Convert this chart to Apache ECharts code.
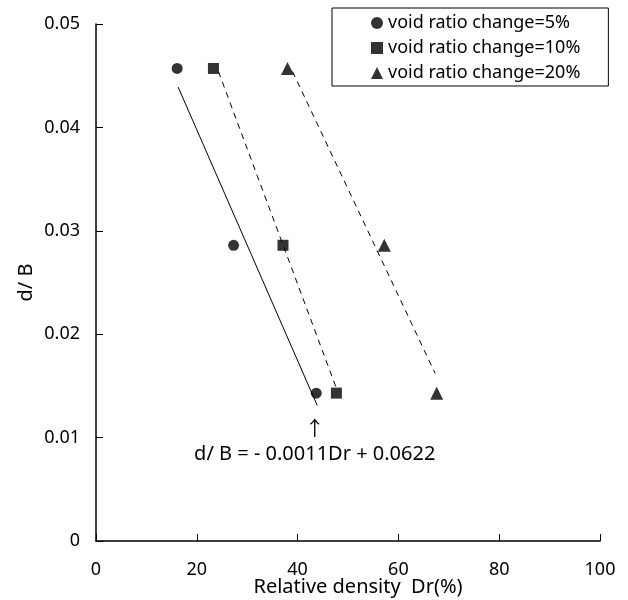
<!DOCTYPE html>
<html>
<head>
<meta charset="utf-8">
<script src="https://cdn.jsdelivr.net/npm/echarts@6/dist/echarts.min.js"></script>
<style>
    html, body {margin: 0; padding: 0; background: #fff;}
    #main {width: 628px; height: 600px;}
</style>
</head>
<body>
<div id="main"></div>
<script>
// measured points, [Dr, d/B]
var void5 = [[16.1, 0.0457], [27.3, 0.0286], [43.7, 0.0143]]
var void10 = [[23.3, 0.0457], [37.1, 0.0286], [47.7, 0.0143]]
var void20 = [[38.0, 0.0457], [57.2, 0.0286], [67.6, 0.0143]]
// fitted lines (end points as drawn)
var fit5 = [[16.3, 0.0439], [43.9, 0.0131]]
var fit10 = [[24.3, 0.0454], [47.6, 0.0149]]
var fit20 = [[39.0, 0.0454], [67.3, 0.0162]]
var seriesNames = ['void ratio change=5%', 'void ratio change=10%', 'void ratio change=20%']
var equationText = 'd/ B = - 0.0011Dr + 0.0622'

var font = '"Noto Sans", "Open Sans", sans-serif'

function getChart() {
    var dom = document.getElementById('main')
    var instance = echarts.init(dom)

    var fitLine = function (data, dashed) {
        return {
            type: 'line',
            data: data,
            symbol: 'none',
            silent: true,
            lineStyle: {
                color: '#000',
                width: 1,
                type: dashed ? [6, 5] : 'solid'
            }
        }
    }

    let option = {
        backgroundColor: '#fff',
        animation: false,
        textStyle: {fontFamily: font},
        grid: {
            left: 96,
            right: 28,
            top: 24,
            bottom: 59,
            outerBoundsMode: 'none'
        },
        legend: {
            orient: 'vertical',
            left: 332,
            top: 8,
            padding: [5, 28, 3, 39],
            itemGap: 5,
            itemWidth: 12,
            itemHeight: 12,
            borderColor: '#000',
            borderWidth: 1,
            data: seriesNames,
            textStyle: {
                fontFamily: font,
                fontSize: 18,
                lineHeight: 20,
                color: '#000'
            }
        },
        xAxis: {
            type: 'value',
            min: 0,
            max: 100,
            interval: 20,
            name: 'Relative density  Dr(%)',
            nameLocation: 'middle',
            nameGap: 36,
            nameMoveOverlap: false,
            nameTextStyle: {
                fontFamily: font,
                fontSize: 20,
                color: '#000',
                padding: [0, 0, 0, 20]
            },
            splitLine: {show: false},
            axisLine: {lineStyle: {color: '#000', width: 1.5}},
            axisTick: {inside: true, length: 7, lineStyle: {color: '#000'}},
            axisLabel: {
                margin: 20,
                fontFamily: font,
                fontSize: 18,
                color: '#000'
            }
        },
        yAxis: {
            type: 'value',
            min: 0,
            max: 0.05,
            interval: 0.01,
            name: 'd/ B',
            nameLocation: 'middle',
            nameGap: 60,
            nameMoveOverlap: false,
            nameTextStyle: {
                fontFamily: font,
                fontSize: 20,
                color: '#000'
            },
            splitLine: {show: false},
            axisLine: {show: true, lineStyle: {color: '#000', width: 1.5}},
            axisTick: {show: true, inside: true, length: 7, lineStyle: {color: '#000'}},
            axisLabel: {
                margin: 16,
                fontFamily: font,
                fontSize: 18,
                color: '#000'
            }
        },
        series: [
            {
                name: seriesNames[0],
                type: 'scatter',
                symbol: 'circle',
                symbolSize: 11,
                itemStyle: {color: '#000'},
                data: void5
            },
            {
                name: seriesNames[1],
                type: 'scatter',
                symbol: 'rect',
                symbolSize: 11,
                itemStyle: {color: '#000'},
                data: void10
            },
            {
                name: seriesNames[2],
                type: 'scatter',
                symbol: 'triangle',
                symbolSize: 13,
                itemStyle: {color: '#000'},
                data: void20
            },
            Object.assign(fitLine(fit5, false), {
                markPoint: {
                    symbol: 'circle',
                    symbolSize: 0,
                    silent: true,
                    data: [{coord: [43.4, 0.00967]}],
                    label: {
                        show: true,
                        position: 'inside',
                        formatter: '{a|↑}\n' + equationText,
                        align: 'center',
                        lineHeight: 26,
                        fontFamily: font,
                        fontSize: 20,
                        color: '#000',
                        rich: {
                            a: {
                                fontFamily: '"Noto Sans CJK JP"',
                                fontSize: 20,
                                lineHeight: 26,
                                color: '#000'
                            }
                        }
                    }
                }
            }),
            fitLine(fit10, true),
            fitLine(fit20, true)
        ]
    };
    instance.setOption(option)
}

getChart()
</script>
</body>
</html>
